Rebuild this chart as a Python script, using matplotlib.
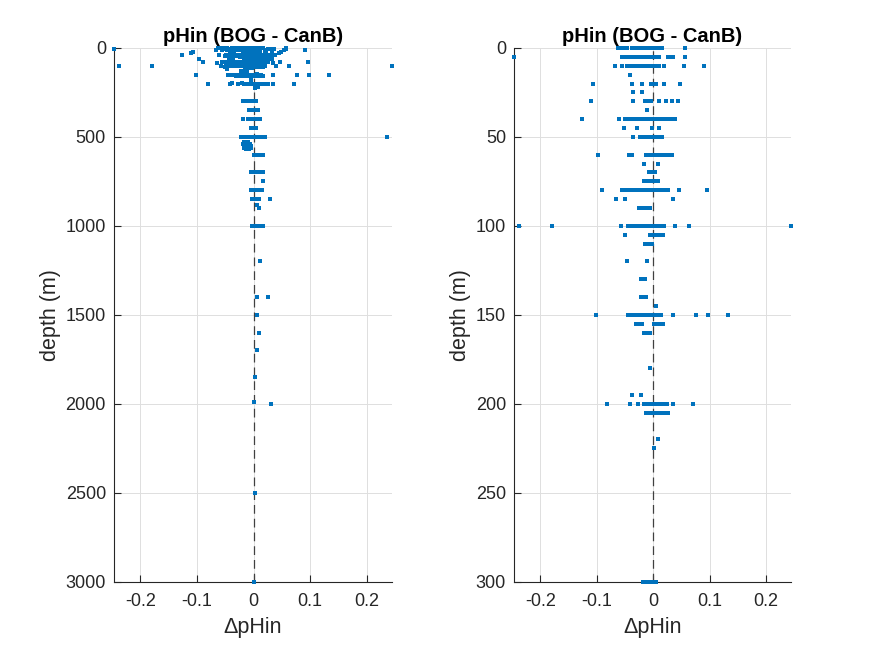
import matplotlib
matplotlib.use("Agg")
import matplotlib.pyplot as plt

plt.rcParams['font.family'] = ['Liberation Sans', 'DejaVu Sans']

# depth levels (m) and the ΔpHin values observed at each level
depth_levels = [0, 5, 10, 15, 20, 25, 30, 35, 40, 45, 50, 60, 65, 70, 75, 80, 85, 90,
                100, 105, 110, 120, 130, 140, 145, 150, 155, 160, 180, 195, 200, 205,
                220, 225, 300, 350, 400, 450, 500, 530, 540, 550, 560, 570, 600, 700,
                750, 800, 850, 880, 900, 1000, 1200, 1400, 1500, 1600, 1700, 1850,
                1990, 2000, 2500, 3000]

delta_at_level = [
    [-0.063, -0.057, -0.051, -0.047, -0.038, -0.032, -0.026, -0.020, -0.014, -0.008, -0.002, 0.004, 0.010, 0.016, 0.057],
    [-0.246, -0.055, -0.049, -0.043, -0.037, -0.031, -0.025, -0.019, -0.013, -0.007, -0.001, 0.005, 0.011, 0.026, 0.031, 0.036, 0.057],
    [-0.067, -0.055, -0.047, -0.041, -0.035, -0.029, -0.023, -0.017, -0.011, -0.005, 0.001, 0.006, 0.011, 0.020, 0.054, 0.091],
    [-0.041],
    [-0.107, -0.038, -0.019, -0.004, 0.000, 0.005, 0.020, 0.048],
    [-0.035, -0.019],
    [-0.110, -0.035, -0.015, -0.010, -0.004, 0.011, 0.022, 0.033, 0.045],
    [-0.010],
    [-0.126, -0.061, -0.049, -0.043, -0.037, -0.031, -0.025, -0.019, -0.013, -0.007, -0.001, 0.005, 0.011, 0.017, 0.023, 0.029, 0.034, 0.038],
    [-0.051, -0.029, -0.002, 0.010],
    [-0.036, -0.024, -0.018, -0.012, -0.006, 0.000, 0.006, 0.011, 0.016],
    [-0.097, -0.043, -0.037, -0.012, -0.006, 0.000, 0.006, 0.012, 0.018, 0.024, 0.029, 0.033],
    [-0.017, 0.009],
    [-0.007, -0.002, 0.004],
    [-0.017, -0.011, -0.005, 0.001, 0.008],
    [-0.090, -0.055, -0.049, -0.043, -0.037, -0.031, -0.025, -0.019, -0.013, -0.007, -0.001, 0.005, 0.011, 0.017, 0.022, 0.026, 0.046, 0.096],
    [-0.065, -0.049, 0.035],
    [-0.025, -0.019, -0.013, -0.008, -0.005],
    [-0.238, -0.180, -0.057, -0.045, -0.039, -0.033, -0.027, -0.021, -0.015, -0.009, -0.003, 0.003, 0.009, 0.015, 0.020, 0.039, 0.063, 0.244],
    [-0.050, -0.005, 0.002, 0.008, 0.013, 0.017],
    [-0.015, -0.009, -0.002],
    [-0.047, -0.011],
    [-0.022, -0.018, -0.014],
    [-0.021, -0.016, -0.012],
    [0.006],
    [-0.101, -0.045, -0.039, -0.033, -0.027, -0.021, -0.015, -0.009, -0.003, 0.003, 0.009, 0.014, 0.035, 0.076, 0.098, 0.133],
    [-0.031, -0.025, -0.019, 0.001, 0.006, 0.012, 0.017],
    [-0.017, -0.011, -0.005],
    [-0.005],
    [-0.038, -0.021],
    [-0.081, -0.041, -0.027, -0.017, -0.011, -0.005, 0.001, 0.007, 0.012, 0.017, 0.024, 0.035, 0.071],
    [-0.012, -0.006, 0.000, 0.006, 0.012, 0.018, 0.022, 0.026],
    [0.008],
    [0.002],
    [-0.018, -0.012, -0.006, 0.000, 0.005],
    [-0.008, -0.002, 0.004, 0.008],
    [-0.018, -0.010, -0.004, 0.002, 0.008, 0.011],
    [-0.005, 0.000, 0.004],
    [-0.023, -0.017, -0.011, -0.005, 0.001, 0.007, 0.013, 0.018, 0.021, 0.235],
    [-0.016, -0.010],
    [-0.018, -0.012, -0.006],
    [-0.017, -0.011, -0.005],
    [-0.016, -0.010, -0.004],
    [-0.013, -0.008],
    [0.001, 0.007, 0.012, 0.017],
    [-0.004, 0.002, 0.008, 0.012, 0.016],
    [0.016],
    [-0.005, 0.001, 0.007, 0.012, 0.015],
    [-0.002, 0.004, 0.010, 0.029],
    [0.007],
    [0.010],
    [-0.002, 0.004, 0.010, 0.015, 0.017],
    [0.011],
    [0.006, 0.025],
    [0.006],
    [0.009],
    [0.006],
    [0.003],
    [0.000],
    [0.031],
    [0.002],
    [0.000],
]

x_ticks = [-0.2, -0.1, 0, 0.1, 0.2]
x_tick_labels = ['-0.2', '-0.1', '0', '0.1', '0.2']
y_ticks_full = [0, 500, 1000, 1500, 2000, 2500, 3000]
y_ticks_zoom = [0, 50, 100, 150, 200, 250, 300]
title_text = 'pHin (BOG - CanB)'

depths = []
deltas = []
for d, vals in zip(depth_levels, delta_at_level):
    for v in vals:
        depths.append(d)
        deltas.append(v)

xmin, xmax = min(deltas), max(deltas)

fig = plt.figure(figsize=(8.75, 6.56), dpi=100)
axc = '#262626'
positions = [[0.1306, 0.1133, 0.3170, 0.8136], [0.5878, 0.1133, 0.3159, 0.8136]]
for pos, yt, ymax in zip(positions, [y_ticks_full, y_ticks_zoom], [3000, 300]):
    ax = fig.add_axes(pos)
    ax.plot(deltas, depths, linestyle='none', marker='s', markersize=2.9,
            markeredgewidth=0, color='#0072BD', zorder=3, clip_on=False)
    ax.axvline(0, color='#404040', linestyle=(0, (7, 4)), linewidth=0.9, zorder=2)
    ax.set_xlim(xmin, xmax)
    ax.set_ylim(ymax, 0)
    ax.set_xticks(x_ticks)
    ax.set_xticklabels(x_tick_labels)
    ax.set_yticks(yt)
    ax.grid(True, color='#dedede', linewidth=0.7, zorder=0)
    ax.set_axisbelow(True)
    for s in ['top', 'right']:
        ax.spines[s].set_visible(False)
    for s in ['left', 'bottom']:
        ax.spines[s].set_color(axc)
        ax.spines[s].set_linewidth(0.8)
    ax.tick_params(direction='in', length=5, width=0.8, colors=axc, labelsize=13)
    ax.tick_params(axis='x', pad=8.5)
    ax.tick_params(axis='y', pad=6)
    ax.set_xlabel('ΔpHin', fontsize=15.5, color=axc, labelpad=5)
    ax.set_ylabel('depth (m)', fontsize=15.5, color=axc, labelpad=3.5)
    ax.set_title(title_text, fontsize=14.5, fontweight='bold', color='black', pad=4)

fig.savefig('out.png', dpi=100)
